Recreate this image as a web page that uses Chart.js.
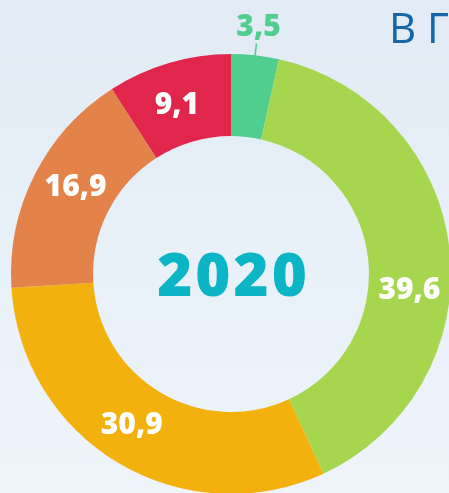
<!DOCTYPE html>
<html><head><meta charset="utf-8">
<script src="https://cdn.jsdelivr.net/npm/chart.js@4/dist/chart.umd.min.js"></script>
<style>
html,body{margin:0;padding:0;width:449px;height:493px;overflow:hidden;background:linear-gradient(180deg,#e2ebf5 0%,#e8f0f8 50%,#eef4fa 100%);}
#wrap{position:absolute;left:0;top:0;width:460px;height:500px;}
</style></head><body>
<div id="wrap"><canvas id="c" width="460" height="500"></canvas></div>
<script>
const categories = ['Сегмент 1','Сегмент 2','Сегмент 3','Сегмент 4','Сегмент 5'];
const values = [3.5, 39.6, 30.9, 16.9, 9.1];
const colors = ['#4fce8f','#a6d64d','#f2b10c','#e3834a','#e1264b'];
const centerLabel = '2020';
const titleText = 'В Г';

function fmt(v){ return v.toFixed(1).replace('.', ','); }

const labelPlugin = {
  id: 'sliceLabels',
  afterDatasetsDraw(chart, args, opts) {
    const ctx = chart.ctx;
    const meta = chart.getDatasetMeta(0);
    let cx = 0, cy = 0;
    meta.data.forEach((arc, i) => {
      const p = arc.getProps(['x','y','startAngle','endAngle','innerRadius','outerRadius'], true);
      cx = p.x; cy = p.y;
      const mid = (p.startAngle + p.endAngle) / 2 + (opts.angleOffsets[i] || 0) * Math.PI / 180;
      const c = Math.cos(mid), s = Math.sin(mid);
      const text = fmt(values[i]);
      ctx.save();
      ctx.font = '800 30px "Open Sans"';
      ctx.textAlign = 'center';
      ctx.textBaseline = 'alphabetic';
      if (opts.outside[i]) {
        ctx.strokeStyle = colors[i];
        ctx.lineWidth = 1.5;
        ctx.beginPath();
        ctx.moveTo(p.x + c * (p.outerRadius - 1), p.y + s * (p.outerRadius - 1));
        ctx.lineTo(p.x + c * (p.outerRadius + 12), p.y + s * (p.outerRadius + 12));
        ctx.stroke();
        const r = p.outerRadius + 31;
        ctx.fillStyle = colors[i];
        ctx.fillText(text, p.x + c * r, p.y + s * r + 11);
      } else {
        const r = (p.innerRadius + p.outerRadius) / 2;
        ctx.fillStyle = '#ffffff';
        ctx.fillText(text, p.x + c * r, p.y + s * r + 11);
      }
      ctx.restore();
    });
    ctx.save();
    ctx.font = '800 60px "Open Sans"';
    ctx.letterSpacing = '3px';
    ctx.textAlign = 'center';
    ctx.textBaseline = 'alphabetic';
    ctx.fillStyle = '#0bb5c5';
    ctx.fillText(centerLabel, cx + 2.5, cy + 22);
    ctx.restore();
    ctx.save();
    ctx.font = '400 42px "Open Sans"';
    ctx.textAlign = 'left';
    ctx.textBaseline = 'alphabetic';
    ctx.fillStyle = '#1565a9';
    ctx.fillText(titleText, 389, 43);
    ctx.restore();
  }
};

new Chart(document.getElementById('c'), {
  type: 'doughnut',
  data: {
    labels: categories,
    datasets: [{
      data: values,
      backgroundColor: colors,
      borderWidth: 0,
      hoverOffset: 0,
      offset: 0
    }]
  },
  options: {
    responsive: false,
    devicePixelRatio: 1,
    animation: false,
    cutout: '62.7%',
    rotation: 0,
    layout: { padding: { left: 11, top: 54, right: 9, bottom: 6 } },
    plugins: {
      legend: { display: false },
      tooltip: { enabled: false },
      sliceLabels: {
        angleOffsets: [0, 10.5, 2.9, 2.9, -1.2],
        outside: [true, false, false, false, false]
      }
    }
  },
  plugins: [labelPlugin]
});
</script>
</body></html>
